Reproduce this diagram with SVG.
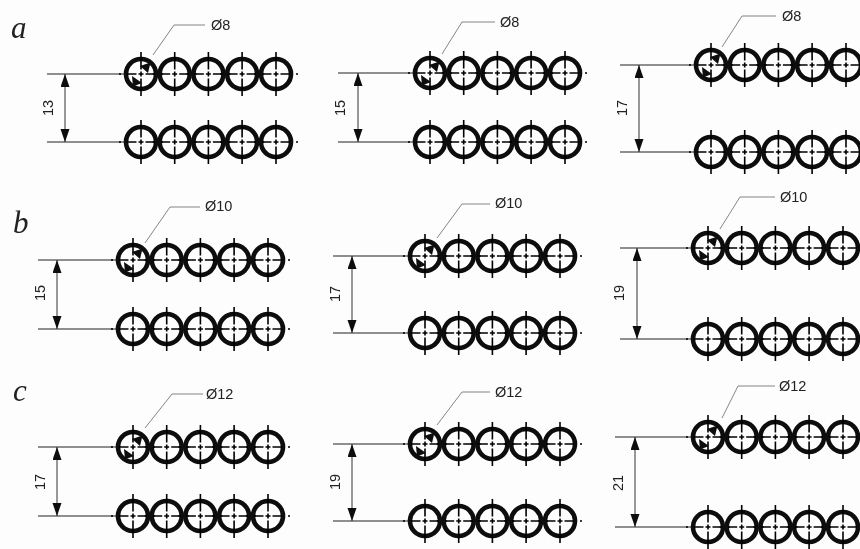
<svg xmlns="http://www.w3.org/2000/svg" xmlns:xlink="http://www.w3.org/1999/xlink" width="860" height="549" viewBox="0 0 860 549">
<style>
.ring{fill:none;stroke:#0a0a0a;stroke-width:4.6}
.cl{fill:none;stroke:#000;stroke-width:1.6}
.ln{fill:none;stroke:#222;stroke-width:1.2}
.ld{fill:none;stroke:#666;stroke-width:.8}
.dm{fill:none;stroke:#333;stroke-width:1;marker-start:url(#ah);marker-end:url(#ah)}
.t{font-family:"Liberation Sans",Arial,sans-serif;font-size:14.5px;fill:#222}
.l{font-family:"Liberation Serif","Times New Roman",serif;font-style:italic;font-size:31px;fill:#222}
</style>
<defs>
<filter id="soft" x="0" y="0" width="100%" height="100%"><feGaussianBlur stdDeviation="0.35"/></filter>
<marker id="ah" markerUnits="userSpaceOnUse" markerWidth="14" markerHeight="10" refX="13" refY="4.5" orient="auto-start-reverse"><path d="M0 0L13 4.500L0 9Z" fill="#111"/></marker>
<g id="h"><circle class="ring" r="15"/><path class="cl" d="M0-22V-4.500M0-2.500V2.500M0 4.500V22M-22 0H-20M-14 0H-4.500M-2.500 0H2.500M4.500 0H14M20 0H22"/></g>
<g id="row"><use xlink:href="#h" x="0"/><use xlink:href="#h" x="33.7"/><use xlink:href="#h" x="67.4"/><use xlink:href="#h" x="101.1"/><use xlink:href="#h" x="135"/></g>
<g id="ar"><path d="M9.500-11.500L-1-8L7-1Z M-8 12.500L-9 2L1 9Z" fill="#0a0a0a"/></g>
</defs>
<rect width="860" height="549" fill="#fdfdfd"/>
<g filter="url(#soft)">
<g id="labels"><text class="l" x="11" y="38">a</text><text class="l" x="13" y="233">b</text><text class="l" x="13" y="401">c</text></g>
<g id="connectors">
<path class="ln" d="M47 74H125M47 142H125M338 73H414M338 142H414M620 65H695M620 152H695M38 260H117M38 329H117M333 256H408M333 333H408M620 248H692M620 339H692M38 447H117M38 516H117M333 444H408M333 521H408M615 437H692M615 527H692"/>
<path class="dm" d="M65 74V142"/><path class="dm" d="M358 73V142"/><path class="dm" d="M639 65V152"/>
<path class="dm" d="M57 260V329"/><path class="dm" d="M352 256V333"/><path class="dm" d="M637 248V339"/>
<path class="dm" d="M57 447V516"/><path class="dm" d="M352 444V521"/><path class="dm" d="M635 437V527"/>
<path class="ld" d="M153 55L174 25H205M442 54L462 22H495M722 47L742 16H776M145 243L170 207H200M437 238L462 204H490M720 229L740 197H775M145 428L172 394H203M437 425L462 392H490M722 418L738 386H775"/>
</g>
<g id="a1"><use xlink:href="#row" x="141" y="74"/><use xlink:href="#row" x="141" y="142"/><use xlink:href="#ar" x="141" y="74"/><text class="t" x="211" y="30">Ø8</text><text class="t" transform="translate(53 108) rotate(-90)" text-anchor="middle">13</text></g>
<g id="a2"><use xlink:href="#row" x="430" y="73"/><use xlink:href="#row" x="430" y="142"/><use xlink:href="#ar" x="430" y="73"/><text class="t" x="500" y="27">Ø8</text><text class="t" transform="translate(345 108) rotate(-90)" text-anchor="middle">15</text></g>
<g id="a3"><use xlink:href="#row" x="711" y="65"/><use xlink:href="#row" x="711" y="152"/><use xlink:href="#ar" x="711" y="65"/><text class="t" x="782" y="21">Ø8</text><text class="t" transform="translate(627 108) rotate(-90)" text-anchor="middle">17</text></g>
<g id="b1"><use xlink:href="#row" x="133" y="260"/><use xlink:href="#row" x="133" y="329"/><use xlink:href="#ar" x="133" y="260"/><text class="t" x="205" y="211">Ø10</text><text class="t" transform="translate(45 293) rotate(-90)" text-anchor="middle">15</text></g>
<g id="b2"><use xlink:href="#row" x="425" y="256"/><use xlink:href="#row" x="425" y="333"/><use xlink:href="#ar" x="425" y="256"/><text class="t" x="495" y="208">Ø10</text><text class="t" transform="translate(340 294) rotate(-90)" text-anchor="middle">17</text></g>
<g id="b3"><use xlink:href="#row" x="708" y="248"/><use xlink:href="#row" x="708" y="339"/><use xlink:href="#ar" x="708" y="248"/><text class="t" x="780" y="202">Ø10</text><text class="t" transform="translate(624 293) rotate(-90)" text-anchor="middle">19</text></g>
<g id="c1"><use xlink:href="#row" x="133" y="447"/><use xlink:href="#row" x="133" y="516"/><use xlink:href="#ar" x="133" y="447"/><text class="t" x="206" y="399">Ø12</text><text class="t" transform="translate(45 482) rotate(-90)" text-anchor="middle">17</text></g>
<g id="c2"><use xlink:href="#row" x="425" y="444"/><use xlink:href="#row" x="425" y="521"/><use xlink:href="#ar" x="425" y="444"/><text class="t" x="495" y="397">Ø12</text><text class="t" transform="translate(340 482) rotate(-90)" text-anchor="middle">19</text></g>
<g id="c3"><use xlink:href="#row" x="708" y="437"/><use xlink:href="#row" x="708" y="527"/><use xlink:href="#ar" x="708" y="437"/><text class="t" x="779" y="391">Ø12</text><text class="t" transform="translate(623 483) rotate(-90)" text-anchor="middle">21</text></g>
</g>
</svg>
